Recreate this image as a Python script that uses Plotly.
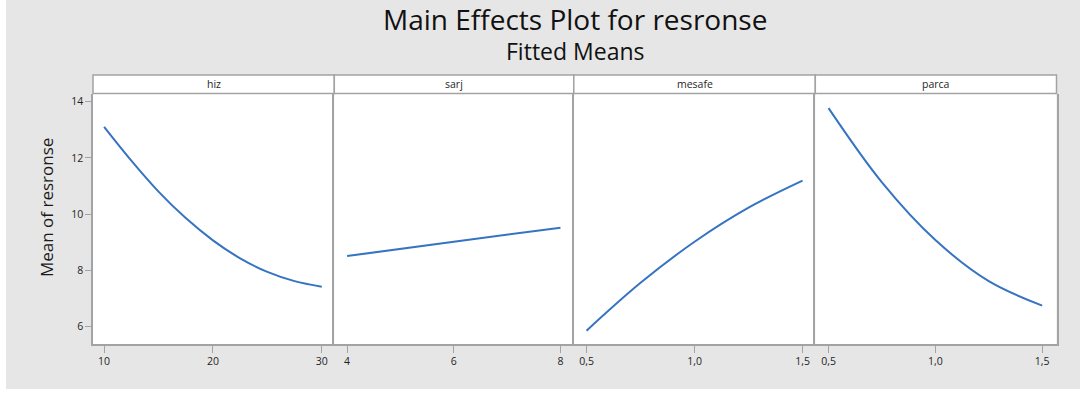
import plotly.graph_objects as go

W, H = 1084, 394

# ---- data ----
panel_names = ["hiz", "sarj", "mesafe", "parca"]

hiz_x = [10, 12.5, 15, 17.5, 20, 22.5, 25, 27.5, 30]
hiz_y = [13.1, 11.9, 10.8, 9.86, 9.07, 8.43, 7.95, 7.62, 7.42]

sarj_x = [4, 6, 8]
sarj_y = [8.51, 9.02, 9.52]

mesafe_x = [0.5, 0.75, 1.0, 1.25, 1.5]
mesafe_y = [5.86, 7.56, 9.02, 10.23, 11.19]

parca_x = [0.5, 0.75, 1.0, 1.25, 1.5]
parca_y = [13.77, 11.13, 9.08, 7.62, 6.75]

hiz_ticks = [10, 20, 30]
hiz_ticktext = ["10", "20", "30"]
sarj_ticks = [4, 6, 8]
sarj_ticktext = ["4", "6", "8"]
dec_ticks = [0.5, 1.0, 1.5]
dec_ticktext = ["0,5", "1,0", "1,5"]

y_ticks = [6, 8, 10, 12, 14]
y_ticktext = ["6", "8", "10", "12", "14"]

series_x = [hiz_x, sarj_x, mesafe_x, parca_x]
series_y = [hiz_y, sarj_y, mesafe_y, parca_y]
x_ranges = [[8.98, 31.15], [3.76, 8.25], [0.441, 1.559], [0.438, 1.567]]
x_tickvals = [hiz_ticks, sarj_ticks, dec_ticks, dec_ticks]
x_ticktexts = [hiz_ticktext, sarj_ticktext, dec_ticktext, dec_ticktext]
y_range = [5.385, 14.29]

# ---- layout geometry (pixels) ----
px_edges = [93.0, 334.3, 573.8, 815.3, 1056.5]
top_px, bottom_px, strip_top_px = 93.5, 344.0, 75.0

def fx(p):
    return p / W

def fy(p):
    return 1 - p / H

BOX = "#a3a3a3"
TXT = "#1f1f1f"
LINE = "#3674c2"
FONT = "Open Sans"

fig = go.Figure()
for i in range(4):
    n = "" if i == 0 else str(i + 1)
    fig.add_trace(go.Scatter(
        x=series_x[i], y=series_y[i], mode="lines",
        line=dict(color=LINE, width=2, shape="spline"),
        xaxis="x" + n, yaxis="y" + n, showlegend=False, hoverinfo="skip"))

layout = dict(
    width=W, height=H, margin=dict(l=0, r=0, t=0, b=0),
    paper_bgcolor="#e6e6e6", plot_bgcolor="white",
    font=dict(family=FONT, color=TXT, size=10),
    showlegend=False,
)
for i in range(4):
    n = "" if i == 0 else str(i + 1)
    layout["xaxis" + n] = dict(
        domain=[fx(px_edges[i]), fx(px_edges[i + 1])], range=x_ranges[i],
        anchor="y" + n, tickvals=x_tickvals[i], ticktext=x_ticktexts[i],
        showline=True, linecolor=BOX, linewidth=1.5, mirror=False,
        ticks="outside", ticklen=7, tickcolor=BOX, tickwidth=1,
        showgrid=False, zeroline=False, tickfont=dict(size=10.5, color=TXT),
        fixedrange=True)
    layout["yaxis" + n] = dict(
        domain=[fy(bottom_px), fy(top_px)], range=y_range,
        anchor="x" + n, tickvals=y_ticks, ticktext=y_ticktext,
        showline=True, linecolor=BOX, linewidth=1.5, mirror=(i == 3),
        ticks="outside" if i == 0 else "", ticklen=6, tickcolor=BOX, tickwidth=1,
        showticklabels=(i == 0), showgrid=False, zeroline=False,
        tickfont=dict(size=10.5, color=TXT), fixedrange=True)

shapes = []
annotations = []
for i in range(4):
    shapes.append(dict(type="rect", xref="paper", yref="paper",
                       x0=fx(px_edges[i]), x1=fx(px_edges[i + 1]),
                       y0=fy(top_px), y1=fy(strip_top_px),
                       fillcolor="white", line=dict(color=BOX, width=1.5)))
    annotations.append(dict(text=panel_names[i], xref="paper", yref="paper",
                            x=fx((px_edges[i] + px_edges[i + 1]) / 2),
                            y=fy((top_px + strip_top_px) / 2),
                            xanchor="center", yanchor="middle", showarrow=False,
                            font=dict(size=10.5, color=TXT)))
# white borders outside the gray area
for (x0, x1, y0, y1) in [(0, 6, 0, H), (1080, W, 0, H), (0, W, 389, H)]:
    shapes.append(dict(type="rect", xref="paper", yref="paper",
                       x0=fx(x0), x1=fx(x1), y0=fy(y1), y1=fy(y0),
                       fillcolor="white", line=dict(width=0)))

cx = fx((px_edges[0] + px_edges[-1]) / 2)
annotations.append(dict(text="Main Effects Plot for resronse", xref="paper", yref="paper",
                        x=cx, y=fy(19), xanchor="center", yanchor="middle",
                        showarrow=False, font=dict(size=28, color="#111111")))
annotations.append(dict(text="Fitted Means", xref="paper", yref="paper",
                        x=cx, y=fy(51), xanchor="center", yanchor="middle",
                        showarrow=False, font=dict(size=23, color="#111111")))
annotations.append(dict(text="Mean of resronse", xref="paper", yref="paper",
                        x=fx(46), y=fy(208), xanchor="center", yanchor="middle",
                        textangle=-90, showarrow=False,
                        font=dict(size=17, color="#1a1a1a")))

layout["shapes"] = shapes
layout["annotations"] = annotations
fig.update_layout(**layout)
fig.write_html("out.html")
